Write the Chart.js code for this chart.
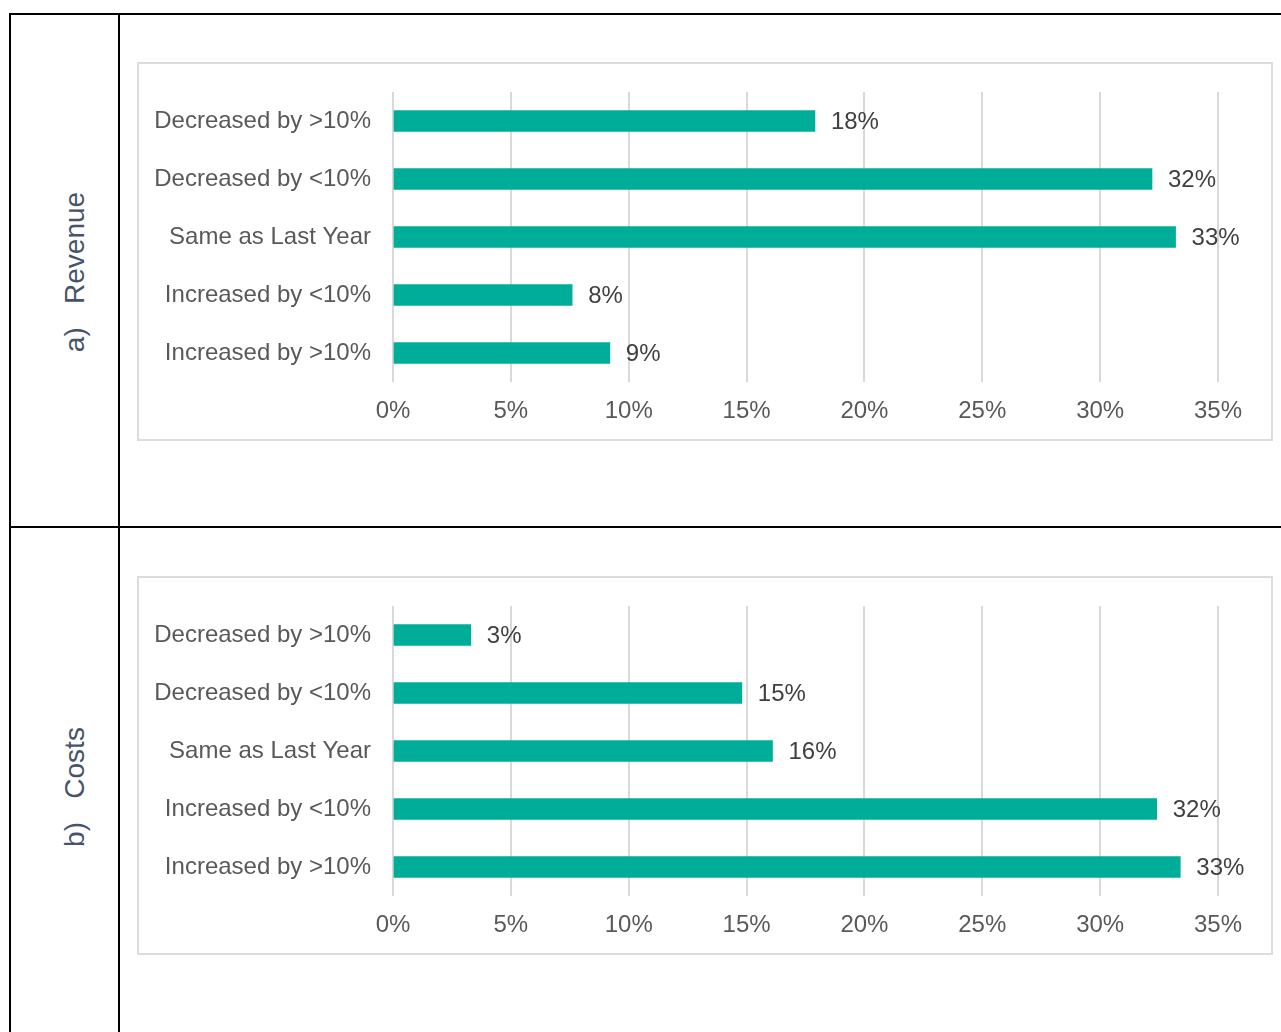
<!DOCTYPE html>
<html>
<head>
<meta charset="utf-8">
<script src="https://cdn.jsdelivr.net/npm/chart.js@4.4.1/dist/chart.umd.min.js"></script>
<style>
  html, body { margin: 0; padding: 0; background: #fff; }
  body { width: 1281px; height: 1032px; position: relative; overflow: hidden; font-family: "Liberation Sans", Arial, sans-serif; }
  .rule { position: absolute; background: #000; }
  .box { position: absolute; box-sizing: border-box; border: 2px solid #dcdcdc; width: 1136px; height: 379px; left: 137px; }
  .plot { position: absolute; left: 139px; width: 1132px; height: 375px; }
  .side { position: absolute; font-size: 28px; color: #44546a; white-space: pre; transform: translate(-50%, -50%) rotate(-90deg); }
</style>
</head>
<body>
  <!-- table grid -->
  <div class="rule" style="left:9px; top:13px; width:1300px; height:2px;"></div>
  <div class="rule" style="left:9px; top:13px; width:2px; height:1100px;"></div>
  <div class="rule" style="left:118px; top:13px; width:2px; height:1100px;"></div>
  <div class="rule" style="left:9px; top:526px; width:1300px; height:2px;"></div>

  <div class="side" style="left:75px; top:272px;">a)   Revenue</div>
  <div class="side" style="left:75px; top:787px;">b)   Costs</div>

  <div class="box" style="top:62px;"></div>
  <div class="plot" style="top:64px;"><canvas id="revenueChart" width="1132" height="375"></canvas></div>

  <div class="box" style="top:576px;"></div>
  <div class="plot" style="top:578px;"><canvas id="costsChart" width="1132" height="375"></canvas></div>

<script>
const categories = [
  "Decreased by >10%",
  "Decreased by <10%",
  "Same as Last Year",
  "Increased by <10%",
  "Increased by >10%",
];
const revenueValues = [17.9, 32.2, 33.2, 7.6, 9.2];
const costValues = [3.3, 14.8, 16.1, 32.4, 33.4];
const xTicks = [0, 5, 10, 15, 20, 25, 30, 35];

const FONT = '"Liberation Sans", Arial, sans-serif';

// percentage labels just past the end of each bar
const valueLabels = {
  id: "valueLabels",
  afterDatasetsDraw(chart) {
    const ctx = chart.ctx;
    const meta = chart.getDatasetMeta(0);
    const data = chart.data.datasets[0].data;
    ctx.save();
    ctx.font = "24px " + FONT;
    ctx.fillStyle = "#404040";
    ctx.textBaseline = "middle";
    ctx.textAlign = "left";
    meta.data.forEach((bar, i) => {
      ctx.fillText(Math.round(data[i]) + "%", bar.x + 16, bar.y + 1);
    });
    ctx.restore();
  },
};

function makeChart(id, values) {
  const ctx = document.getElementById(id).getContext("2d");
  return new Chart(ctx, {
    type: "bar",
    data: {
      labels: categories,
      datasets: [
        {
          data: values,
          backgroundColor: "#00ad98",
          barThickness: 21,
        },
      ],
    },
    options: {
      indexAxis: "y",
      responsive: false,
      animation: false,
      layout: { padding: { left: 0, right: 53, top: 28, bottom: 0 } },
      plugins: { legend: { display: false }, tooltip: { enabled: false } },
      scales: {
        x: {
          min: 0,
          max: 35,
          afterBuildTicks: (scale) => {
            scale.ticks = xTicks.map((v) => ({ value: v }));
          },
          afterFit: (scale) => {
            scale.height = 57;
          },
          grid: { color: "#d9d9d9", lineWidth: 2, drawTicks: false },
          border: { display: false },
          ticks: {
            padding: 15,
            color: "#595959",
            font: { family: FONT, size: 24 },
            callback: (v) => v + "%",
          },
        },
        y: {
          afterFit: (scale) => {
            // fixed label column; no extra room above/below for label overhang
            scale.width = 254;
            scale.paddingTop = 0;
            scale.paddingBottom = 0;
          },
          grid: { display: false, drawTicks: false },
          border: { display: false },
          ticks: {
            padding: 22,
            color: "#595959",
            font: { family: FONT, size: 24 },
          },
        },
      },
    },
    plugins: [valueLabels],
  });
}

makeChart("revenueChart", revenueValues);
makeChart("costsChart", costValues);
</script>
</body>
</html>
